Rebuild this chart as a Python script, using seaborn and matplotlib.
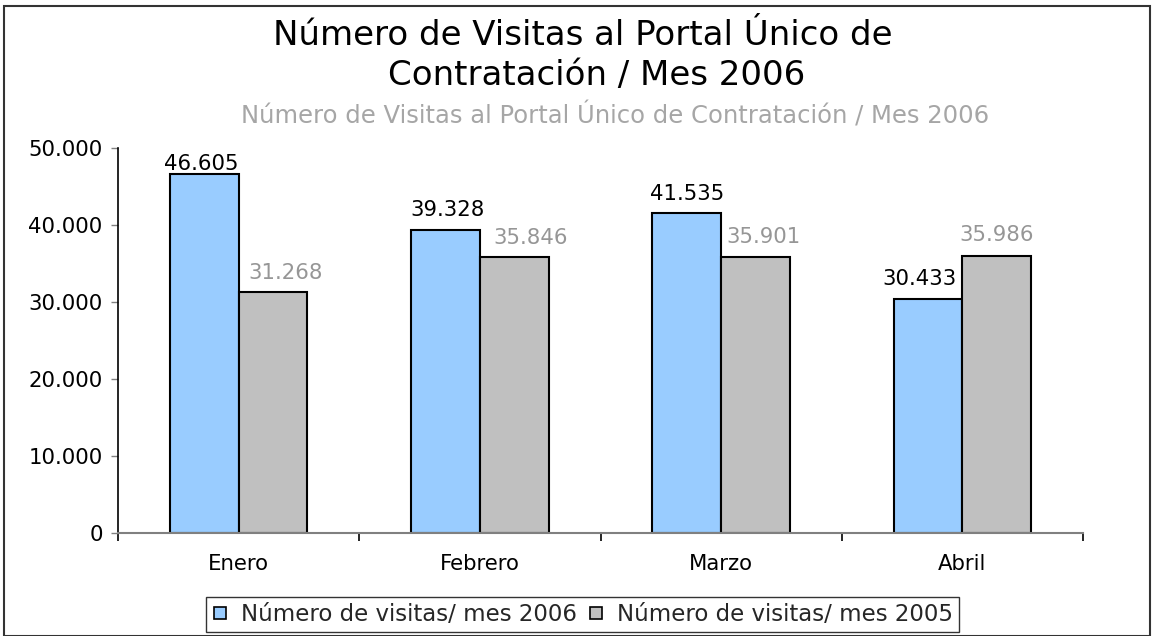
import matplotlib
matplotlib.use("Agg")
import matplotlib.pyplot as plt
import seaborn as sns
import pandas as pd
from matplotlib.lines import Line2D
from matplotlib.patches import Rectangle
from matplotlib.ticker import FuncFormatter

months = ["Enero", "Febrero", "Marzo", "Abril"]
series_names = ["Número de visitas/ mes 2006", "Número de visitas/ mes 2005"]
visits_2006 = [46605, 39328, 41535, 30433]
visits_2005 = [31268, 35846, 35901, 35986]
y_ticks = [0, 10000, 20000, 30000, 40000, 50000]
title_lines = ["Número de Visitas al Portal Único de", "Contratación / Mes 2006"]
subtitle = "Número de Visitas al Portal Único de Contratación / Mes 2006"

colors = ["#99CCFF", "#C0C0C0"]
label_colors = ["#000000", "#969696"]
# label nudges in pixels (dx, gap above bar) as placed in the reference
label_dx = [[-3, 2, 0, -8], [13, 16, 8, 0]]
label_gap = [[4, 14, 13, 14], [13, 13, 14, 15]]

df = pd.DataFrame({
    "Mes": months * 2,
    "Serie": [series_names[0]] * 4 + [series_names[1]] * 4,
    "Visitas": visits_2006 + visits_2005,
})

sns.set_theme(style="white")
plt.rcParams["font.family"] = ["DejaVu Sans"]

FS = 15.3
PX = 72 / 100  # points per pixel

fig = plt.figure(figsize=(11.54, 6.36), dpi=100)
ax = fig.add_axes([118 / 1154, 103 / 636, 965 / 1154, 385 / 636])

sns.barplot(data=df, x="Mes", y="Visitas", hue="Serie", order=months,
            hue_order=series_names, palette=colors, width=0.57, gap=0,
            edgecolor="black", linewidth=1.5, saturation=1, ax=ax, legend=False)

def fmt(v):
    return f"{int(round(v)):,}".replace(",", ".")

for si, (cont, lc) in enumerate(zip(ax.containers, label_colors)):
    for bi, bar in enumerate(cont):
        h = bar.get_height()
        ax.annotate(fmt(h), xy=(bar.get_x() + bar.get_width() / 2, h),
                    xytext=(label_dx[si][bi] * PX, label_gap[si][bi] * PX),
                    textcoords="offset points", ha="center", va="baseline",
                    fontsize=FS, color=lc, annotation_clip=False)

ax.set_ylim(0, 50000)
ax.set_xlim(-0.5, 3.5)
ax.set_yticks(y_ticks)
ax.yaxis.set_major_formatter(FuncFormatter(lambda v, p: fmt(v)))
ax.set_xlabel("")
ax.set_ylabel("")
ax.tick_params(axis="y", labelsize=FS, length=5, width=1, color="#808080",
               direction="out", left=True, pad=6, labelcolor="black")
ax.tick_params(axis="x", which="major", labelsize=FS, length=0, pad=15,
               labelcolor="black")
ax.set_xticks([-0.5, 0.5, 1.5, 2.5, 3.5], minor=True)
ax.tick_params(axis="x", which="minor", length=6, width=1.2, color="black",
               direction="out", bottom=True)
for s in ["top", "right"]:
    ax.spines[s].set_visible(False)
ax.spines["left"].set_color("black")
ax.spines["left"].set_linewidth(1.2)
ax.spines["bottom"].set_color("#808080")
ax.spines["bottom"].set_linewidth(1.5)
ax.grid(False)

fig.text(583 / 1154, 1 - 45 / 636, title_lines[0], ha="center", va="baseline",
         fontsize=24.5, color="black")
fig.text(597 / 1154, 1 - 85 / 636, title_lines[1], ha="center", va="baseline",
         fontsize=24.5, color="black")
fig.text(615 / 1154, 1 - 124 / 636, subtitle, ha="center", va="baseline",
         fontsize=17.5, color="#A6A6A6")

handles = [Line2D([], [], linestyle="none", marker="s", markersize=9,
                  markerfacecolor=c, markeredgecolor="black", markeredgewidth=1.2)
           for c in colors]
leg = fig.legend(handles, series_names, loc="center", ncol=2,
                 bbox_to_anchor=(582.5 / 1154, 21.5 / 636), fontsize=16.5,
                 frameon=True, fancybox=False, handlelength=0.7,
                 handletextpad=0.55, columnspacing=0.5, borderpad=0.25,
                 borderaxespad=0)
leg.get_frame().set_edgecolor("black")
leg.get_frame().set_linewidth(1)

fig.patches.append(Rectangle((4 / 1154, 0), 1146 / 1154, 1 - 6 / 636,
                             transform=fig.transFigure, fill=False,
                             edgecolor="#333333", linewidth=1.5))

fig.savefig("out.png", dpi=100)
